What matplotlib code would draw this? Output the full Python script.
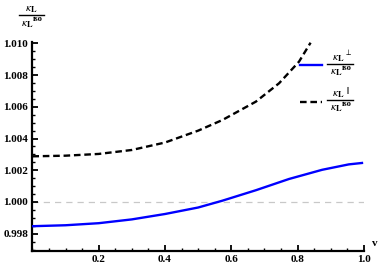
import matplotlib
matplotlib.use("Agg")
import matplotlib.pyplot as plt
from matplotlib.ticker import MultipleLocator, FixedLocator, FormatStrFormatter
from matplotlib.lines import Line2D

plt.rcParams['font.family'] = ['Liberation Serif', 'DejaVu Serif']
plt.rcParams['mathtext.fontset'] = 'stix'

v_perp = [0.0, 0.1, 0.2, 0.3, 0.4, 0.5, 0.573, 0.674, 0.774, 0.874, 0.954, 0.994]
k_perp = [0.99847, 0.99853, 0.99866, 0.99890, 0.99924, 0.99965, 1.00008,
          1.00074, 1.00145, 1.00203, 1.00237, 1.00246]
v_par = [0.0, 0.1, 0.2, 0.3, 0.4, 0.5, 0.573, 0.674, 0.744, 0.804, 0.839]
k_par = [1.00288, 1.00292, 1.00303, 1.00328, 1.00375, 1.00450, 1.00517,
         1.00633, 1.00749, 1.00885, 1.01005]
xticks = [0.2, 0.4, 0.6, 0.8, 1.0]
yticks = [0.998, 1.000, 1.002, 1.004, 1.006, 1.008, 1.010]

W, H = 382, 267
fig = plt.figure(figsize=(W / 100, H / 100), dpi=100)
ax = fig.add_axes([0.0848, 0.0596, 0.868, 0.7835])

def fx(px):
    return px / W

def fy(py):
    return 1 - py / H

DASH = (0, (2.8, 1.6))
ax.axhline(1.0, color='#c8c8c8', lw=0.9, ls=(0, (5, 4)), zorder=1)
ax.plot(v_perp, k_perp, color='#0000ff', lw=1.7, zorder=3)
ax.plot(v_par, k_par, color='black', lw=1.7, ls=DASH, zorder=3)

ax.set_xlim(0, 1.0)
ax.set_ylim(0.9969, 1.0101)
for s in ['top', 'right']:
    ax.spines[s].set_visible(False)
for s in ['left', 'bottom']:
    ax.spines[s].set_linewidth(1.6)

ax.xaxis.set_major_locator(FixedLocator(xticks))
ax.xaxis.set_minor_locator(MultipleLocator(0.05))
ax.yaxis.set_major_locator(FixedLocator(yticks))
ax.yaxis.set_minor_locator(MultipleLocator(0.0005))
ax.yaxis.set_major_formatter(FormatStrFormatter('%.3f'))
ax.xaxis.set_major_formatter(FormatStrFormatter('%.1f'))
ax.tick_params(which='major', direction='in', length=4, width=1.3,
               labelsize=8, pad=3)
ax.tick_params(which='minor', direction='in', length=2.5, width=1.0)
for lbl in ax.get_xticklabels() + ax.get_yticklabels():
    lbl.set_fontweight('bold')

KAPPA = r'$\kappa_{\mathbf{L}}$'

def frac(xc, yline, half, sup=None, fs=8.5):
    # numerator
    fig.text(fx(xc - (2 if sup else 0)), fy(yline - 3.5), KAPPA, ha='center',
             va='baseline', fontsize=fs)
    if sup:
        fig.text(fx(xc + 4), fy(yline - 8.5), sup, ha='left', va='baseline',
                 fontsize=fs * 0.65)
    fig.lines.append(Line2D([fx(xc - half), fx(xc + half)], [fy(yline), fy(yline)],
                            color='black', lw=1.0, transform=fig.transFigure))
    # denominator
    fig.text(fx(xc - 4), fy(yline + 11), KAPPA, ha='center', va='baseline', fontsize=fs)
    fig.text(fx(xc + 1.5), fy(yline + 6), 'iso', ha='left', va='baseline',
             fontsize=fs * 0.72, fontweight='bold')

# y axis label
frac(31, 15, 12.5)
fig.text(fx(375), fy(244), 'v', ha='center', va='center', fontsize=8, fontweight='bold')

# legend
fig.lines.append(Line2D([fx(300), fx(322)], [fy(65), fy(65)], color='#0000ff',
                        lw=1.7, transform=fig.transFigure))
frac(340, 63.5, 13, sup=r'$\perp$')
fig.lines.append(Line2D([fx(300), fx(322)], [fy(101.7), fy(101.7)], color='black',
                        lw=1.7, ls=DASH, transform=fig.transFigure))
frac(340, 100, 13, sup=r'$\parallel$')

fig.savefig('out.png', dpi=100)
